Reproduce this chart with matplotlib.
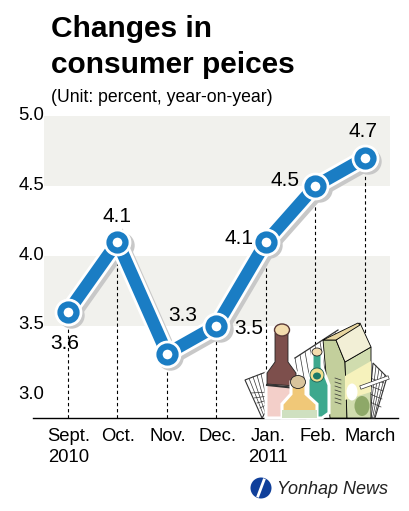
import matplotlib
matplotlib.use('Agg')
from matplotlib import pyplot as plt
from matplotlib.patches import Polygon, Circle, Ellipse
from matplotlib.transforms import ScaledTranslation

plt.rcParams['font.family'] = ['Liberation Sans', 'DejaVu Sans']

months = ['Sept.\n2010', 'Oct.', 'Nov.', 'Dec.', 'Jan.\n2011', 'Feb.', 'March']
values = [3.6, 4.1, 3.3, 3.5, 4.1, 4.5, 4.7]
y_ticks = [3.0, 3.5, 4.0, 4.5, 5.0]
bands = [(3.5, 4.0), (4.5, 5.0)]

BLUE = '#1a7dc4'
BAND = '#f1f1ed'

W, H = 409, 511
fig = plt.figure(figsize=(W / 100, H / 100), dpi=100)
ax = fig.add_axes([33 / W, (H - 418) / H, 365 / W, 302 / H])
ax.set_xlim(-0.707, 6.667)
ax.set_ylim(2.84, 5.0)
xs = list(range(len(values)))
bottom = ax.get_ylim()[0]

for lo, hi in bands:
    ax.axhspan(lo, hi, xmin=11 / 365, xmax=357 / 365, color=BAND, lw=0, zorder=0)

# dashed drop lines
for x, v in zip(xs, values):
    ax.plot([x, x], [bottom, v], color='black', lw=0.8, ls=(0, (3, 2.5)), zorder=1)

# line with shadow and white edge
shadow = ScaledTranslation(2.5 / 72, -2.5 / 72, fig.dpi_scale_trans)
ax.plot(xs, values, color='#c8c8c8', lw=12, zorder=2, solid_joinstyle='miter',
        transform=ax.transData + shadow)
ax.plot(xs, values, color='white', lw=13, zorder=3, solid_joinstyle='miter')
ax.plot(xs, values, color=BLUE, lw=9, zorder=4, solid_joinstyle='miter')
ax.plot(xs, values, ls='', marker='o', ms=19, mfc='#c8c8c8', mec='none', zorder=2,
        transform=ax.transData + shadow)
ax.plot(xs, values, ls='', marker='o', ms=19, mfc='white', mec='white', zorder=5)
ax.plot(xs, values, ls='', marker='o', ms=11.5, mfc='white', mec=BLUE, mew=4.5, zorder=6)

# value labels, offsets in pixels
offsets = [(-3, -32), (0, 25), (16, 38), (32, -3), (-27, 3), (-30, 5), (-2, 26)]
for x, v, (dx, dy) in zip(xs, values, offsets):
    ax.annotate(f'{v:.1f}', (x, v), xytext=(dx * 0.72, dy * 0.72), textcoords='offset points',
                ha='center', va='center', fontsize=15, zorder=7)

ax.set_xticks(xs)
ax.set_xticklabels(months, fontsize=13.3, linespacing=1.3, va='top')
ax.set_yticks(y_ticks)
ax.set_yticklabels([f'{t:.1f}' for t in y_ticks], fontsize=13.3)
ax.tick_params(length=0, axis='both')
ax.tick_params(axis='x', pad=7)
ax.tick_params(axis='y', pad=-8)
up = ScaledTranslation(0, 2 / 72, fig.dpi_scale_trans)
for lab in ax.get_yticklabels():
    lab.set_transform(lab.get_transform() + up)
# the month labels sit a little right of their points
nudges = [1, 1, 1, 1, 2, 2, 5]
for lab, n in zip(ax.get_xticklabels(), nudges):
    lab.set_transform(lab.get_transform() + ScaledTranslation(n * 0.72 / 72, 0, fig.dpi_scale_trans))
for s in ['top', 'left', 'right']:
    ax.spines[s].set_visible(False)
ax.spines['bottom'].set_linewidth(1)
ax.patch.set_visible(False)

fig.text(51 / W, 1 - 29 / H, 'Changes in', fontsize=21.5, fontweight='bold', va='center')
fig.text(51 / W, 1 - 65 / H, 'consumer peices', fontsize=21.5, fontweight='bold', va='center')
fig.text(51 / W, 1 - 97 / H, '(Unit: percent, year-on-year)', fontsize=12.7, va='center')

# overlay in pixel coordinates for the illustration and logo
ov = fig.add_axes([0, 0, 1, 1], zorder=10)
ov.set_xlim(0, W)
ov.set_ylim(H, 0)
ov.axis('off')


def poly(pts, fc, ec='black', lw=0.6, z=1):
    ov.add_patch(Polygon(pts, closed=True, fc=fc, ec=ec, lw=lw, zorder=z))


def wire(px, py, z=1, lw=0.5):
    ov.plot(px, py, color='#333333', lw=lw, zorder=z)


# basket, back rim then the two ends
poly([(295, 358), (338, 330), (345, 345), (300, 395)], 'white', ec='white', z=1)
for i in range(9):
    wire([295 + i * 5, 301 + i * 5], [358 - i * 3.2, 392 - i * 3.2])
wire([295, 338], [358, 330], lw=0.9)
poly([(245, 380), (266, 372), (270, 405), (262, 418)], 'white', ec='#333333', lw=0.8, z=1)
poly([(373, 363), (387, 377), (375, 418), (368, 418)], 'white', ec='#333333', lw=0.8, z=1)
for i in range(1, 5):
    wire([245 + i * 4, 262 + i * 1.5], [380 - i * 1.6, 418 - i * 3])
    wire([248 + i * 3, 268], [388 + i * 5, 388 + i * 4])
    wire([373 + i * 3, 368 + i * 1.5], [363 + i * 3, 418])
    wire([370, 385 - i], [370 + i * 8, 375 + i * 8])

# wine bottle
poly([(275, 333), (288, 333), (288, 362), (297, 373), (297, 418), (266, 418), (266, 373), (275, 362)],
     '#f3cfc9', ec='white', lw=2.2, z=2)
poly([(275, 333), (288, 333), (288, 362), (296, 373), (296, 386), (267, 384), (267, 373), (275, 362)],
     '#7d4f4c', ec='#222222', z=3)
wire([267, 296], [385, 388], z=3, lw=1.5)
ov.add_patch(Ellipse((282, 330), 15, 12, fc='#f3dcae', ec='#5a3a38', lw=1, zorder=4))

# carton
poly([(323, 340), (336, 340), (345, 362), (347, 418), (330, 418)], '#c3cf9c', z=5)
poly([(345, 362), (371, 347), (371, 418), (347, 418)], '#d0dcae', z=5)
poly([(345, 376), (371, 361), (371, 392), (345, 400)], '#f6f2bc', ec='none', z=6)
poly([(336, 340), (360, 323), (371, 347), (345, 362)], '#f2efd6', z=6)
poly([(323, 340), (358, 323), (360, 325), (336, 340)], '#e8d6a0', z=6)
ov.add_patch(Ellipse((362, 406), 15, 20, fc='#8ea868', lw=0, zorder=7))
ov.add_patch(Ellipse((352, 392), 11, 17, fc='white', lw=0, zorder=7))
for i in range(7):
    wire([335, 341], [378 + i * 4, 380 + i * 4], z=6)
# handle over the carton
wire([362, 387], [387, 378], z=8, lw=3)
ov.plot([362, 387], [387, 378], color='white', lw=2, zorder=8.5)

# green bottle
poly([(312, 353), (322, 353), (322, 367), (329, 385), (329, 413), (322, 418), (308, 418), (308, 380), (312, 367)],
     '#3da88e', ec='white', lw=2.2, z=9)
ov.add_patch(Ellipse((317, 375), 14, 14, fc='#f0df90', ec='#1a5a50', lw=0.6, zorder=10))
ov.add_patch(Ellipse((317, 376), 8, 7, fc='#1a7a68', lw=0, zorder=10))
ov.add_patch(Ellipse((317, 352), 10, 8, fc='#f3dcae', ec='#222222', lw=0.6, zorder=10))

# small bottle
poly([(291, 382), (306, 382), (306, 394), (317, 404), (317, 418), (282, 418), (282, 404), (291, 394)],
     '#f0c878', ec='white', lw=2.2, z=11)
poly([(282, 410), (317, 410), (317, 418), (282, 418)], '#cfe0c0', ec='none', z=12)
ov.add_patch(Ellipse((298, 382), 15, 13, fc='#d8c49c', ec='#222222', lw=0.6, zorder=12))

# logo
ov.add_patch(Circle((261, 488), 10.5, fc='#0f3f9a', ec='none', zorder=1))
ov.plot([258, 264], [496, 480], color='white', lw=2, zorder=2)
ov.text(277, 489, 'Yonhap News', fontsize=13, style='italic', color='#222222', va='center', ha='left')

fig.savefig('out.png', dpi=100)
